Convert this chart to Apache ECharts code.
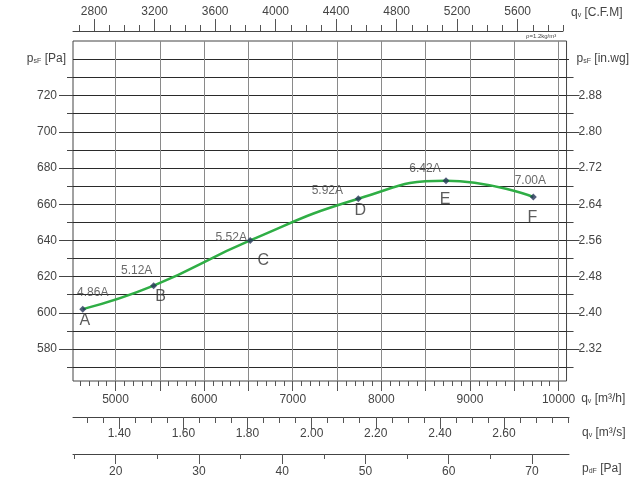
<!DOCTYPE html>
<html>
<head>
<meta charset="utf-8">
<title>Fan curve</title>
<script src="https://cdn.jsdelivr.net/npm/echarts@6/dist/echarts.min.js"></script>
<style>
html, body { margin: 0; padding: 0; background: #fff; }
#chart { width: 632px; height: 483px; }
</style>
</head>
<body>
<div id="chart"></div>
<script>
// operating points
var flowM3h = [4630, 5430, 6520, 7740, 8730, 9715];
var pressPa = [602, 615, 640, 663, 673, 664];
var currents = ['4.86A', '5.12A', '5.52A', '5.92A', '6.42A', '7.00A'];
var pointNames = ['A', 'B', 'C', 'D', 'E', 'F'];

// axis ranges
var qRange = [4520, 10090];      // m3/h
var pRange = [562.3, 750.2];     // Pa
var pdRange = [14.87, 74.45];    // Pa (dynamic)
var cfmRange = [2660, 5900];     // C.F.M

// tick labels
var qLabels = [5000, 6000, 7000, 8000, 9000, 10000];
var qGrid = [5000, 5500, 6000, 6500, 7000, 7500, 8000, 8500, 9000, 9500, 10000];
var m3sLabels = [1.4, 1.6, 1.8, 2.0, 2.2, 2.4, 2.6];
var pdLabels = [20, 30, 40, 50, 60, 70];
var pdMinor = [15, 25, 35, 45, 55, 65];
var cfmLabels = [2800, 3200, 3600, 4000, 4400, 4800, 5200, 5600];
var pLabels = [580, 600, 620, 640, 660, 680, 700, 720];

function steps(a, b, st) {
    var out = [];
    for (var v = a; v <= b + 1e-9; v += st) out.push(Math.round(v * 1000) / 1000);
    return out;
}
var qMinor = steps(4600, 10000, 100);
var m3sMinor = steps(1.3, 2.8, 0.05);
var cfmMinor = steps(2700, 5900, 100);
var pMinor = steps(570, 730, 10);
var pGrid = steps(570, 740, 10);

// label placement around the markers (px)
var currentOffsets = [[10, -16], [-17, -15], [-19, -3], [-31, -8], [-21, -12], [-3, -16]];
var letterOffsets = [[2, 11], [7, 11], [13, 20], [2, 12], [-1, 19], [-1, 21]];

var FONT = '"Liberation Sans", Arial, sans-serif';
var TXT = '#444';
var subRich = {
    b: { fontSize: 7, verticalAlign: 'bottom', color: TXT, fontFamily: FONT, padding: [3, 0, 0, 0] }
};

function plain(v) { return String(v); }

function nameStyle(extra) {
    var s = { color: TXT, fontSize: 12, fontFamily: FONT, rich: subRich };
    for (var k in extra) s[k] = extra[k];
    return s;
}

function xAx(grid, range, pos, tickVals, tickLen, labelVals, more) {
    var ax = {
        type: 'value', gridIndex: grid, min: range[0], max: range[1], position: pos,
        axisLine: { show: false, onZero: false, lineStyle: { color: '#444' } },
        axisTick: { show: true, customValues: tickVals, length: tickLen, lineStyle: { color: '#555' } },
        axisLabel: { show: false },
        splitLine: { show: false }
    };
    if (labelVals) {
        ax.axisLabel = {
            show: true, customValues: labelVals, color: TXT, fontSize: 12, fontFamily: FONT,
            formatter: plain
        };
    }
    for (var k in more) ax[k] = more[k];
    return ax;
}

var myChart = echarts.init(document.getElementById('chart'));
var option = {
    animation: false,
    textStyle: { fontFamily: FONT },
    grid: [
        { left: 73, top: 41, width: 496, height: 340, show: true, borderColor: '#444', borderWidth: 1 },
        { left: 73, top: 416, width: 496, height: 1 },
        { left: 73, top: 453, width: 496, height: 1 },
        { left: 73, top: 31, width: 490, height: 1 }
    ],
    xAxis: [
        // m3/h
        (function () {
            var a = xAx(0, qRange, 'bottom', qGrid, 10, qLabels, {
                name: 'q{b|v} [m³/h]', nameLocation: 'end', nameGap: 13,
                nameTextStyle: nameStyle({ verticalAlign: 'top', padding: [12, 0, 0, 0] })
            });
            a.axisLabel.margin = 13;
            return a;
        })(),
        xAx(0, qRange, 'bottom', qMinor, 5, null),
        xAx(0, qRange, 'bottom', qGrid, 340, null, {
            axisTick: { show: true, inside: true, customValues: qGrid, length: 340, lineStyle: { color: '#8a8a8a' } }
        }),
        // m3/s
        (function () {
            var a = xAx(1, [qRange[0] / 3600, qRange[1] / 3600], 'bottom', m3sLabels, 12, m3sLabels, {
                name: 'q{b|v} [m³/s]', nameLocation: 'end', nameGap: 13,
                nameTextStyle: nameStyle({ verticalAlign: 'top', padding: [10, 0, 0, 0] })
            });
            a.axisLine.show = true;
            a.axisLabel.margin = 11;
            a.axisLabel.formatter = function (v) { return (+v).toFixed(2); };
            return a;
        })(),
        xAx(1, [qRange[0] / 3600, qRange[1] / 3600], 'bottom', m3sMinor, 6, null),
        // dynamic pressure
        (function () {
            var a = xAx(2, pdRange, 'bottom', pdLabels, 10, pdLabels, {
                name: 'p{b|dF} [Pa]', nameLocation: 'end', nameGap: 13,
                nameTextStyle: nameStyle({ verticalAlign: 'top', padding: [9, 0, 0, 0] })
            });
            a.axisLine.show = true;
            a.axisLabel.margin = 12;
            return a;
        })(),
        xAx(2, pdRange, 'bottom', pdMinor, 5, null),
        // C.F.M on top
        (function () {
            var a = xAx(3, cfmRange, 'top', cfmLabels, 12, cfmLabels, {
                name: 'q{b|v} [C.F.M]', nameLocation: 'end', nameGap: 8,
                nameTextStyle: nameStyle({ verticalAlign: 'bottom', padding: [0, 0, 12, 0] })
            });
            a.axisLine.show = true;
            a.axisLabel.margin = 13;
            return a;
        })(),
        xAx(3, cfmRange, 'top', cfmMinor, 6, null)
    ],
    yAxis: [
        {
            type: 'value', gridIndex: 0, min: pRange[0], max: pRange[1], position: 'left',
            name: 'p{b|sF} [Pa]', nameLocation: 'end', nameGap: -18,
            nameTextStyle: nameStyle({ align: 'right', verticalAlign: 'middle', padding: [0, 7, 0, 0] }),
            axisLine: { show: false, onZero: false },
            axisTick: { show: true, customValues: pLabels, length: 14, lineStyle: { color: '#444' } },
            axisLabel: { show: true, customValues: pLabels, margin: 16, color: TXT, fontSize: 12, fontFamily: FONT },
            splitLine: { show: false }
        },
        {
            type: 'value', gridIndex: 0, min: pRange[0], max: pRange[1], position: 'left',
            axisLine: { show: false, onZero: false },
            axisTick: { show: true, customValues: pMinor, length: 6, lineStyle: { color: '#444' } },
            axisLabel: { show: false }, splitLine: { show: false }
        },
        {
            type: 'value', gridIndex: 0, min: pRange[0], max: pRange[1], position: 'left',
            axisLine: { show: false, onZero: false },
            axisTick: { show: true, inside: true, customValues: pGrid, length: 496, lineStyle: { color: '#2a2a2a' } },
            axisLabel: { show: false }, splitLine: { show: false }
        },
        {
            type: 'value', gridIndex: 0, min: pRange[0], max: pRange[1], position: 'right',
            name: 'p{b|sF} [in.wg]', nameLocation: 'end', nameGap: -18,
            nameTextStyle: nameStyle({ align: 'left', verticalAlign: 'middle', padding: [0, 0, 0, 10] }),
            axisLine: { show: false, onZero: false },
            axisTick: { show: true, customValues: pLabels, length: 13, lineStyle: { color: '#444' } },
            axisLabel: {
                show: true, customValues: pLabels, margin: 12, color: TXT, fontSize: 12, fontFamily: FONT,
                formatter: function (v) { return (v * 0.004).toFixed(2); }
            },
            splitLine: { show: false }
        },
        {
            type: 'value', gridIndex: 0, min: pRange[0], max: pRange[1], position: 'right',
            axisLine: { show: false, onZero: false },
            axisTick: { show: true, customValues: pMinor, length: 7, lineStyle: { color: '#444' } },
            axisLabel: { show: false }, splitLine: { show: false }
        },
        { type: 'value', gridIndex: 1, min: 0, max: 1, show: false },
        { type: 'value', gridIndex: 2, min: 0, max: 1, show: false },
        { type: 'value', gridIndex: 3, min: 0, max: 1, show: false }
    ],
    graphic: [
        { type: 'text', left: 526, top: 33, style: { text: 'ρ=1.2kg/m³', fontSize: 6, fill: TXT, fontFamily: FONT } }
    ],
    series: [
        {
            name: 'curve', type: 'line', xAxisIndex: 0, yAxisIndex: 0,
            smooth: true, symbol: 'none', z: 3,
            lineStyle: { color: '#2fae45', width: 2.5 },
            data: flowM3h.map(function (q, i) { return [q, pressPa[i]]; })
        },
        {
            name: 'points', type: 'scatter', xAxisIndex: 0, yAxisIndex: 0,
            symbol: 'diamond', symbolSize: 7, z: 4,
            itemStyle: { color: '#27355a' },
            data: flowM3h.map(function (q, i) {
                return {
                    value: [q, pressPa[i]],
                    label: {
                        show: true, position: 'inside', formatter: currents[i], offset: currentOffsets[i],
                        color: TXT, fontSize: 12, fontFamily: FONT
                    }
                };
            })
        },
        {
            name: 'letters', type: 'scatter', xAxisIndex: 0, yAxisIndex: 0,
            symbol: 'circle', symbolSize: 2, z: 4,
            itemStyle: { color: 'rgba(0,0,0,0)' },
            data: flowM3h.map(function (q, i) {
                return {
                    value: [q, pressPa[i]],
                    label: {
                        show: true, position: 'inside', formatter: pointNames[i], offset: letterOffsets[i],
                        color: '#333', fontSize: 16, fontFamily: FONT
                    }
                };
            })
        }
    ]
};
option && myChart.setOption(option);
window.addEventListener('resize', function () {
    myChart.resize();
});
</script>
</body>
</html>
